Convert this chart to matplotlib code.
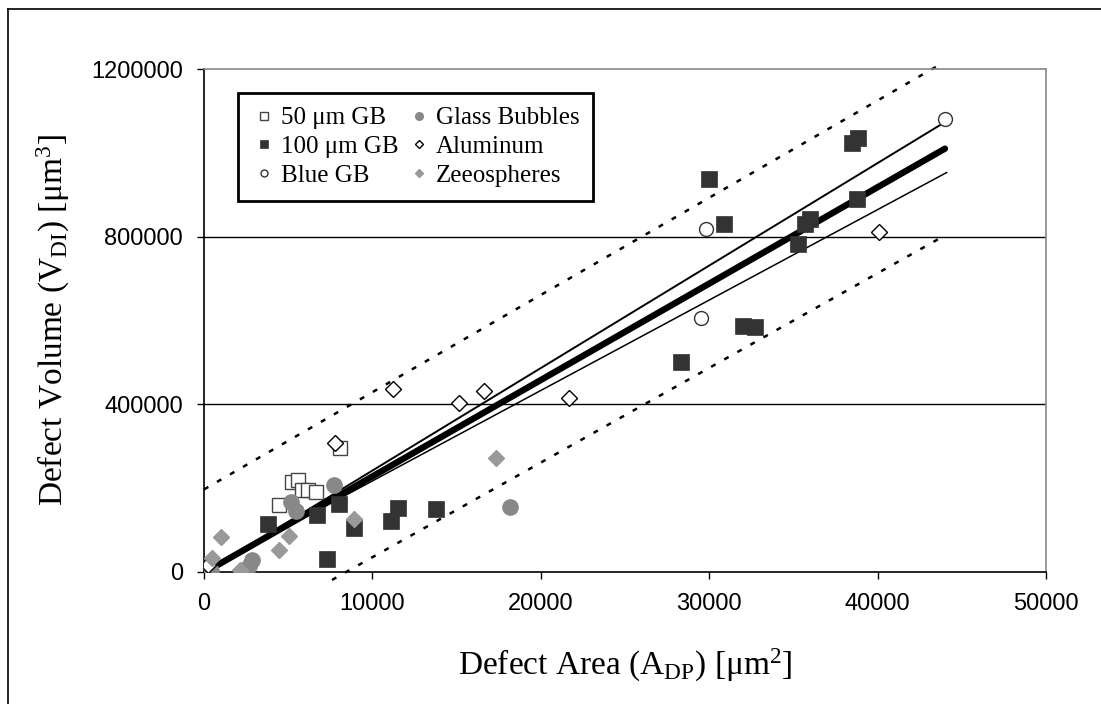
import matplotlib
matplotlib.use("Agg")
import matplotlib.pyplot as plt
from matplotlib.lines import Line2D
import numpy as np

plt.rcParams["mathtext.fontset"] = "custom"
plt.rcParams["mathtext.rm"] = "Liberation Serif"
plt.rcParams["mathtext.it"] = "Liberation Serif:italic"
plt.rcParams["mathtext.bf"] = "Liberation Serif:bold"

# ---- data (x in um^2, y in um^3) ----
gb50_x = np.array([4.45, 5.2, 5.6, 5.8, 6.2, 6.65, 8.1]) * 1000
gb50_y = np.array([160, 215, 219, 196, 196, 191, 296]) * 1000

gb100_x = np.array([3.8, 6.7, 8.0, 8.9, 7.3, 11.1, 11.5, 13.8, 28.3, 30.0, 30.9,
                    32.0, 32.7, 35.3, 35.7, 36.0, 38.5, 38.85, 38.8]) * 1000
gb100_y = np.array([114, 136, 162, 105, 31, 122, 153, 150, 501, 937, 830,
                    587, 584, 782, 830, 842, 1023, 1035, 890]) * 1000

blue_x = np.array([29.5, 29.8, 44.0]) * 1000
blue_y = np.array([606, 818, 1080]) * 1000

glass_x = np.array([0.4, 2.7, 2.85, 5.15, 5.45, 7.7, 18.2]) * 1000
glass_y = np.array([3, 15, 29, 168, 146, 208, 155]) * 1000

alum_x = np.array([0.25, 7.8, 11.2, 15.15, 16.6, 21.7, 40.1]) * 1000
alum_y = np.array([17, 308, 437, 403, 432, 415, 811]) * 1000

zeeo_x = np.array([0.45, 1.0, 2.15, 4.45, 5.05, 8.9, 17.35]) * 1000
zeeo_y = np.array([33, 84, 5, 52, 86, 126, 272]) * 1000

fit_x = np.array([0.25, 44.0]) * 1000
fit_y = np.array([3.75, 1010]) * 1000
upper_x = np.array([0.25, 43.7]) * 1000
upper_y = np.array([3.6, 1066]) * 1000
lower_x = np.array([0.25, 44.1]) * 1000
lower_y = np.array([6.9, 953]) * 1000
band_up_x = np.array([0, 43.5]) * 1000
band_up_y = np.array([197, 1206]) * 1000
band_lo_x = np.array([7.6, 43.6]) * 1000
band_lo_y = np.array([-19, 794]) * 1000

x_ticks = [0, 10000, 20000, 30000, 40000, 50000]
y_ticks = [0, 400000, 800000, 1200000]

labels = ["50 \u03bcm GB", "100 \u03bcm GB", "Blue GB",
          "Glass Bubbles", "Aluminum", "Zeeospheres"]

serif = ["Liberation Serif", "DejaVu Serif"]
sans = ["Liberation Sans", "DejaVu Sans"]

fig = plt.figure(figsize=(11.01, 7.04), dpi=100)
ax = fig.add_axes([204 / 1101, 1 - 572 / 704, 842 / 1101, 503 / 704])

# outer figure border (left and top visible)
fig.add_artist(Line2D([8 / 1101, 8 / 1101], [0, 1 - 9 / 704], transform=fig.transFigure,
                      color="black", lw=1.2))
fig.add_artist(Line2D([8 / 1101, 1.0], [1 - 9 / 704, 1 - 9 / 704], transform=fig.transFigure,
                      color="black", lw=1.2))

ax.set_xlim(0, 50000)
ax.set_ylim(0, 1200000)
for yv in y_ticks[1:-1]:
    ax.axhline(yv, color="black", lw=1.0, zorder=1)

# lines
ax.plot(band_up_x, band_up_y, color="black", lw=1.8, dashes=(2, 4), clip_on=False, zorder=2)
ax.plot(band_lo_x, band_lo_y, color="black", lw=1.8, dashes=(2, 4), clip_on=False, zorder=2)
ax.plot(upper_x, upper_y, color="black", lw=1.4, zorder=2, solid_capstyle="round")
ax.plot(lower_x, lower_y, color="black", lw=1.1, zorder=2)
ax.plot(fit_x, fit_y, color="black", lw=4.6, zorder=2, solid_capstyle="round")

# markers
h1, = ax.plot(gb50_x, gb50_y, "s", ms=10.5, mfc="white", mec="#444444", mew=1.0, zorder=3, ls="none")
h2, = ax.plot(gb100_x, gb100_y, "s", ms=11, mfc="#333333", mec="#333333", mew=0.5, zorder=4, ls="none")
h3, = ax.plot(blue_x, blue_y, "o", ms=10, mfc="white", mec="#333333", mew=1.0, zorder=4, ls="none")
h4, = ax.plot(glass_x, glass_y, "o", ms=11, mfc="#888888", mec="#888888", zorder=4, ls="none")
h5, = ax.plot(alum_x, alum_y, "D", ms=8.5, mfc="white", mec="black", mew=1.0, zorder=5, ls="none")
h6, = ax.plot(zeeo_x, zeeo_y, "D", ms=8, mfc="#999999", mec="#999999", zorder=5, ls="none")

# axes styling
ax.set_xticks(x_ticks)
ax.set_yticks(y_ticks)
ax.set_xticklabels([str(v) for v in x_ticks])
ax.set_yticklabels([str(v) for v in y_ticks])
ax.tick_params(direction="out", length=5, width=1, color="black", labelsize=17, pad=10)
for lab in ax.get_xticklabels() + ax.get_yticklabels():
    lab.set_family(sans)
ax.spines["left"].set_color("black")
ax.spines["bottom"].set_color("black")
ax.spines["top"].set_color("#888888")
ax.spines["right"].set_color("#888888")
for s in ax.spines.values():
    s.set_linewidth(1.2)

ax.set_xlabel("Defect Area (A$_{\\mathrm{DP}}$) [\u03bcm$^{2}$]", fontsize=24,
              family=serif, labelpad=23)
ax.set_ylabel("Defect Volume (V$_{\\mathrm{DI}}$) [\u03bcm$^{3}$]", fontsize=24,
              family=serif, labelpad=14)

leg = ax.legend([h1, h2, h3, h4, h5, h6], labels, ncol=2, loc="upper left",
                bbox_to_anchor=(0.040, 0.952), borderaxespad=0, fancybox=False,
                edgecolor="black", framealpha=1, markerscale=0.5,
                prop={"family": serif, "size": 18}, handlelength=1.0,
                handletextpad=0.18, columnspacing=0.3, labelspacing=0.25,
                borderpad=0.55)
leg.get_frame().set_linewidth(2)
leg.set_zorder(10)

fig.savefig("out.png", dpi=100)
